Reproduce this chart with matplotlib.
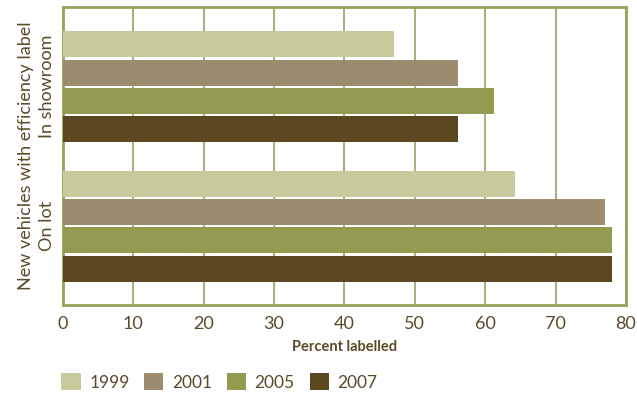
import matplotlib.pyplot as plt
from matplotlib.patches import Patch

plt.rcParams['font.family'] = ['Lato', 'DejaVu Sans']

groups = ["In showroom", "On lot"]
years = ["1999", "2001", "2005", "2007"]
values = {
    "1999": [47, 64.2],
    "2001": [56.1, 77],
    "2005": [61.2, 78],
    "2007": [56.1, 78],
}
colors = ["#c8c99c", "#9c8b6c", "#949b50", "#5b4720"]

text_color = "#5a4a2a"
frame_color = "#9aa15a"
grid_color = "#aab27a"

fig = plt.figure(figsize=(6.37, 3.93), dpi=100)
ax = fig.add_axes([0.0989, 0.224, 0.8838, 0.758])

step = 0.2036
h = 0.187
for i, (yr, c) in enumerate(zip(years, colors)):
    pos = [g + (i - 1.5) * step for g in range(len(groups))]
    ax.barh(pos, values[yr], height=h, color=c, zorder=3)

ax.set_xlim(0, 80)
ax.set_ylim(1.565, -0.572)
ax.set_xticks(range(0, 81, 10))
ax.set_yticks(range(len(groups)))
ax.set_yticklabels(groups, rotation=90, va="center", fontsize=13, color=text_color)
ax.tick_params(axis="x", labelsize=13, colors=text_color, length=0, pad=8)
ax.tick_params(axis="y", length=0, pad=6)
ax.xaxis.grid(True, color=grid_color, linewidth=1.5, zorder=0)

for s in ax.spines.values():
    s.set_color(frame_color)
    s.set_linewidth(2)

ax.set_xlabel("Percent labelled", fontsize=10.5, fontweight="bold", color=text_color, labelpad=6)
ax.set_ylabel("New vehicles with efficiency label", fontsize=13, color=text_color, labelpad=3)

handles = [Patch(facecolor=c, label=y) for y, c in zip(years, colors)]
leg = fig.legend(handles=handles, loc="center left", bbox_to_anchor=(0.072, 0.028), ncol=4,
                 frameon=False, fontsize=12.5, handlelength=1.1, handleheight=1.1,
                 columnspacing=0.85, handletextpad=0.5)
for t in leg.get_texts():
    t.set_color(text_color)

fig.savefig("out.png", dpi=100)
